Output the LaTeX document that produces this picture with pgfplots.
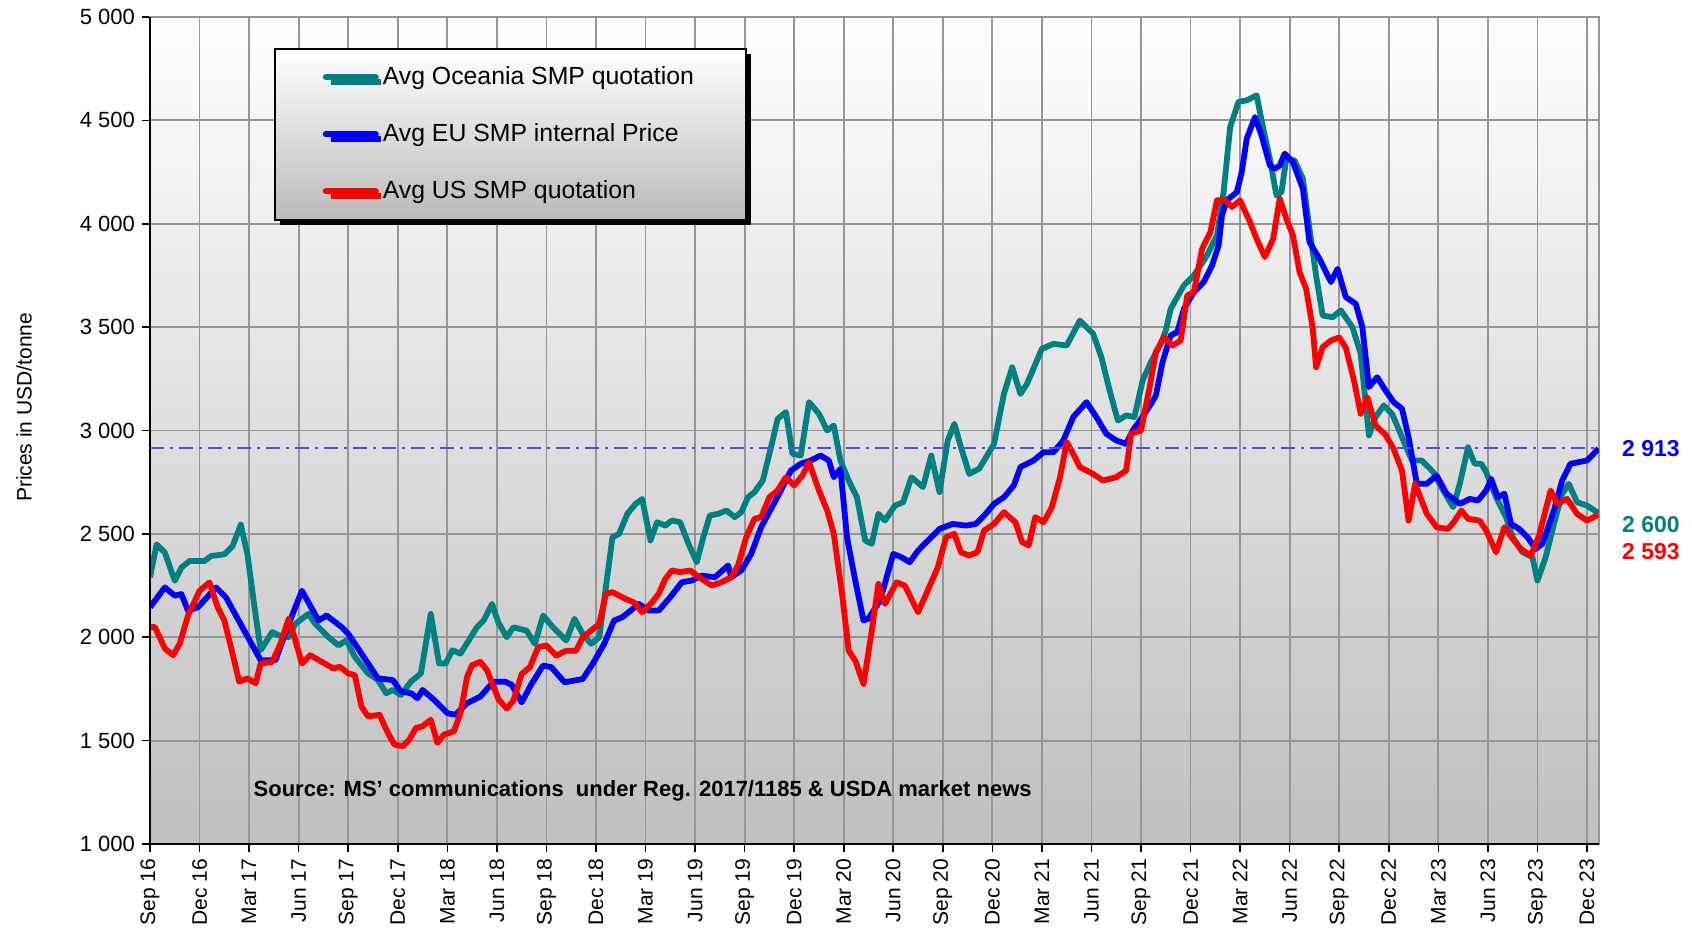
\documentclass[border=0pt]{standalone}
\usepackage{fontspec}
\setmainfont{Liberation Sans}
\usepackage{pgfplots}
\pgfplotsset{compat=1.18}
\usetikzlibrary{shadows}
\definecolor{oce}{RGB}{0,128,128}
\definecolor{eub}{RGB}{0,0,255}
\definecolor{usr}{RGB}{255,0,0}
\definecolor{gridc}{RGB}{150,150,150}
\begin{document}
\begin{tikzpicture}
\begin{axis}[
  scale only axis, width=724.5pt, height=413.5pt,
  at={(0,0)}, anchor=south west, clip mode=individual,
  xmin=0, xmax=87.73, ymin=1000, ymax=5000,
  xtick={0,3,...,87},
  xticklabels={Sep 16,Dec 16,Mar 17,Jun 17,Sep 17,Dec 17,Mar 18,Jun 18,Sep 18,Dec 18,Mar 19,Jun 19,Sep 19,Dec 19,Mar 20,Jun 20,Sep 20,Dec 20,Mar 21,Jun 21,Sep 21,Dec 21,Mar 22,Jun 22,Sep 22,Dec 22,Mar 23,Jun 23,Sep 23,Dec 23},
  ytick={1000,1500,...,5000},
  yticklabels={1 000,1 500,2 000,2 500,3 000,3 500,4 000,4 500,5 000},
  x tick label style={rotate=90, anchor=east, font=\fontsize{10.5}{12}\selectfont},
  y tick label style={font=\fontsize{11}{13}\selectfont},
  tick pos=left, tick align=outside, major tick length=4pt,
  tick style={black, line width=0.8pt},
  grid=major, major grid style={draw=gridc, line width=0.9pt},
  axis line style={draw=gridc, line width=0.9pt},
  axis background/.style={top color=white, bottom color=black!25},
  legend style={at={(rel axis cs:0.0856,0.9625)}, anchor=north west,
    draw=black, line width=0.8pt, top color=white, bottom color=black!27,
    drop shadow={shadow xshift=2.5pt, shadow yshift=-2.5pt, opacity=1, fill=black},
    inner xsep=24pt, inner ysep=7pt, row sep=14pt,
    font=\fontsize{12.4}{14}\selectfont},
  legend cell align=left,
  legend image code/.code={\draw[#1, line width=3pt, line cap=round] (0pt,0pt) -- (25pt,0pt);},
  every axis plot/.append style={line width=2.9pt, line join=round},
]
\addplot[oce] coordinates {
(0,2290) (0.4,2449) (0.9,2409) (1.5,2273) (1.9,2337) (2.4,2369) (3.3,2369) (3.7,2393) (4.5,2401) (5.0,2441) (5.5,2545) (5.9,2401) (6.3,2161) (6.7,1937) (7.4,2025) (7.8,2009) (8.4,2001) (8.8,2065) (9.6,2113) (10.0,2065) (10.8,2001) (11.4,1961) (11.9,1985) (12.4,1905) (13.2,1825) (13.8,1793) (14.3,1729) (14.7,1745) (15.2,1721) (15.8,1785) (16.4,1825) (17.0,2113) (17.5,1873) (17.9,1873) (18.3,1937) (18.8,1921) (19.3,1985) (19.8,2049) (20.2,2081) (20.7,2161) (21.1,2070) (21.6,2000) (22.0,2048) (22.8,2032) (23.3,1968) (23.8,2105) (24.4,2048) (25.2,1984) (25.7,2089) (26.2,2016) (26.7,1968) (27.2,2000) (27.6,2242) (28.0,2484) (28.4,2500) (28.9,2597) (29.4,2645) (29.8,2669) (30.3,2468) (30.7,2556) (31.2,2540) (31.6,2565) (32.1,2556) (32.6,2452) (33.1,2363) (33.5,2484) (33.9,2589) (34.4,2597) (34.9,2613) (35.4,2581) (35.8,2605) (36.2,2677) (36.6,2702) (37.1,2758) (37.6,2919) (38.0,3056) (38.5,3089) (38.9,2887) (39.4,2879) (39.9,3137) (40.5,3081) (41.0,3000) (41.4,3024) (41.8,2855) (42.3,2758) (42.8,2677) (43.3,2468) (43.7,2452) (44.1,2597) (44.5,2565) (45.1,2637) (45.6,2653) (46.1,2774) (46.8,2726) (47.3,2879) (47.8,2702) (48.3,2952) (48.7,3032) (49.1,2919) (49.6,2790) (50.2,2815) (51.1,2935) (51.7,3177) (52.2,3306) (52.7,3177) (53.1,3226) (54.0,3395) (54.7,3419) (55.5,3411) (56.3,3532) (57.1,3468) (57.6,3355) (58.1,3194) (58.6,3048) (59.1,3073) (59.6,3065) (60.1,3242) (60.6,3331) (61.2,3419) (61.5,3484) (61.8,3589) (62.6,3702) (63.2,3750) (64.0,3847) (64.6,3944) (65.0,4153) (65.4,4468) (65.9,4589) (66.4,4597) (67.0,4621) (67.4,4460) (67.8,4315) (68.2,4137) (68.5,4153) (68.8,4315) (69.3,4306) (69.8,4218) (70.2,3976) (70.6,3750) (71.0,3556) (71.6,3548) (72.1,3581) (72.8,3500) (73.3,3371) (73.8,2976) (74.2,3065) (74.7,3121) (75.2,3081) (75.8,2968) (76.4,2855) (77.0,2855) (77.7,2798) (78.3,2710) (78.9,2629) (79.3,2742) (79.8,2919) (80.2,2839) (80.6,2839) (80.9,2798) (81.5,2677) (82.1,2581) (82.5,2484) (83.1,2411) (83.7,2387) (84.0,2274) (84.5,2387) (85.0,2548) (85.5,2694) (85.9,2742) (86.4,2653) (87.0,2637) (87.7,2600)
};
\addlegendentry{Avg Oceania SMP quotation}
\addplot[eub] coordinates {
(0,2145) (0.9,2241) (1.5,2201) (1.9,2209) (2.3,2129) (2.9,2145) (4.0,2241) (4.6,2193) (5.7,2033) (6.7,1889) (7.6,1889) (8.4,2065) (9.2,2225) (10.2,2081) (10.7,2105) (11.6,2049) (12.0,2017) (12.8,1921) (13.8,1801) (14.7,1793) (15.2,1737) (15.8,1729) (16.2,1705) (16.5,1745) (17.2,1697) (18.0,1633) (18.5,1625) (19.2,1681) (20.0,1713) (20.8,1785) (21.5,1785) (21.9,1770) (22.5,1685) (23.1,1774) (23.8,1863) (24.3,1855) (25.1,1782) (26.2,1798) (26.8,1871) (27.5,1968) (28.1,2081) (28.6,2097) (29.6,2161) (30.2,2129) (30.8,2129) (31.5,2194) (32.2,2266) (32.8,2274) (33.4,2298) (34.2,2290) (35.0,2347) (35.2,2290) (35.8,2323) (36.4,2403) (37.0,2532) (37.6,2621) (38.2,2710) (38.8,2806) (39.4,2839) (40.0,2855) (40.6,2879) (41.1,2855) (41.4,2774) (41.8,2815) (42.2,2484) (42.7,2274) (43.2,2081) (43.5,2090) (44.2,2177) (45.0,2403) (45.5,2387) (46.0,2363) (46.5,2419) (47.2,2476) (47.8,2524) (48.6,2548) (49.4,2540) (50.0,2548) (50.6,2597) (51.1,2645) (51.7,2677) (52.3,2734) (52.7,2823) (53.5,2855) (54.1,2895) (54.7,2895) (55.3,2952) (55.9,3065) (56.7,3137) (57.3,3065) (57.9,2984) (58.5,2952) (59.1,2935) (59.5,3000) (60.0,3056) (60.5,3115) (60.9,3169) (61.3,3330) (61.8,3460) (62.2,3476) (62.6,3589) (63.2,3669) (63.8,3718) (64.3,3798) (64.7,3895) (64.9,4040) (65.2,4113) (65.8,4153) (66.1,4250) (66.4,4411) (66.9,4516) (67.3,4427) (67.8,4282) (68.1,4266) (68.4,4282) (68.7,4339) (69.2,4298) (69.8,4169) (70.2,3911) (70.8,3831) (71.5,3718) (71.9,3782) (72.4,3645) (73.0,3613) (73.4,3500) (73.8,3210) (74.3,3258) (74.8,3194) (75.3,3137) (75.8,3105) (76.2,2968) (76.7,2742) (77.3,2742) (77.9,2782) (78.5,2694) (79.3,2645) (79.9,2669) (80.4,2661) (80.9,2710) (81.2,2766) (81.6,2677) (82.0,2694) (82.4,2548) (82.9,2524) (83.4,2484) (83.9,2427) (84.3,2452) (85.0,2613) (85.5,2758) (86.0,2839) (86.5,2847) (87.0,2855) (87.4,2887) (87.7,2913)
};
\addlegendentry{Avg EU SMP internal Price}
\addplot[usr] coordinates {
(0,2049) (0.3,2049) (0.9,1945) (1.4,1913) (1.8,1969) (2.3,2105) (3.0,2225) (3.6,2265) (4.1,2145) (4.5,2081) (4.9,1953) (5.4,1785) (5.9,1801) (6.4,1777) (6.7,1873) (7.4,1881) (7.9,1969) (8.4,2089) (8.8,1985) (9.2,1873) (9.7,1913) (10.4,1881) (11.1,1849) (11.5,1857) (12.0,1825) (12.4,1817) (12.8,1665) (13.2,1617) (13.9,1625) (14.4,1537) (14.8,1481) (15.3,1473) (15.7,1505) (16.1,1561) (16.5,1569) (17.0,1601) (17.4,1489) (17.8,1529) (18.4,1545) (18.8,1633) (19.2,1809) (19.5,1865) (20.0,1881) (20.4,1841) (21.1,1700) (21.6,1655) (22.0,1693) (22.5,1822) (23.0,1855) (23.5,1952) (24.0,1960) (24.6,1911) (25.2,1935) (25.8,1935) (26.2,2000) (26.7,2032) (27.2,2065) (27.6,2210) (28.0,2218) (28.8,2185) (29.3,2169) (29.8,2121) (30.4,2169) (30.8,2210) (31.2,2282) (31.6,2323) (32.1,2315) (32.7,2323) (33.4,2282) (34.0,2250) (34.6,2266) (35.2,2290) (35.6,2347) (36.1,2484) (36.6,2573) (37.0,2581) (37.5,2677) (38.0,2710) (38.5,2774) (39.0,2734) (39.5,2782) (39.9,2847) (40.5,2710) (41.0,2613) (41.4,2500) (41.9,2210) (42.3,1935) (42.7,1887) (43.2,1774) (43.7,2032) (44.1,2258) (44.5,2161) (45.2,2266) (45.7,2250) (46.5,2121) (47.0,2210) (47.7,2339) (48.2,2484) (48.7,2500) (49.1,2411) (49.6,2395) (50.1,2411) (50.5,2516) (51.1,2548) (51.7,2605) (52.4,2556) (52.8,2460) (53.2,2444) (53.6,2581) (54.1,2556) (54.6,2629) (55.1,2774) (55.5,2944) (55.9,2887) (56.3,2823) (57.1,2790) (57.7,2758) (58.5,2774) (59.1,2806) (59.4,2984) (60.0,3000) (60.5,3200) (60.9,3379) (61.4,3452) (61.9,3411) (62.4,3435) (62.8,3653) (63.2,3669) (63.7,3879) (64.2,3960) (64.6,4113) (65.1,4113) (65.5,4081) (66.0,4113) (66.6,4008) (67.0,3927) (67.5,3839) (68.0,3927) (68.4,4121) (68.8,4024) (69.2,3944) (69.6,3766) (70.0,3685) (70.4,3492) (70.6,3306) (71.0,3403) (71.5,3435) (72.0,3450) (72.4,3400) (72.9,3240) (73.3,3081) (73.7,3161) (74.2,3024) (74.8,2980) (75.3,2910) (75.8,2806) (76.2,2564) (76.6,2742) (77.3,2597) (77.9,2532) (78.6,2524) (79.0,2564) (79.4,2613) (79.8,2573) (80.5,2564) (80.9,2516) (81.5,2411) (82.0,2532) (82.5,2476) (83.0,2427) (83.6,2395) (84.1,2492) (84.8,2710) (85.2,2645) (85.8,2669) (86.4,2597) (87.0,2564) (87.7,2593)
};
\addlegendentry{Avg US SMP quotation}
\addplot[eub!70, line width=1pt, dash pattern=on 7pt off 3pt on 1.5pt off 3pt, forget plot] coordinates {(0,2913) (87.73,2913)};
\draw[black, line width=1pt] (rel axis cs:0,1) -- (rel axis cs:0,0) -- (rel axis cs:1,0);
\node[anchor=west, font=\bfseries\fontsize{11}{13}\selectfont] at (axis cs:5.85,1255) {Source: MS' communications\ \ under Reg. 2017/1185 \& USDA market news};
\node[anchor=west, text=eub, font=\bfseries\fontsize{11.5}{13}\selectfont] at ([xshift=8pt]axis cs:87.73,2913) {2 913};
\node[anchor=west, text=oce, font=\bfseries\fontsize{11.5}{13}\selectfont] at ([xshift=8pt]axis cs:87.73,2543) {2 600};
\node[anchor=west, text=usr, font=\bfseries\fontsize{11.5}{13}\selectfont] at ([xshift=8pt]axis cs:87.73,2413) {2 593};
\node[rotate=90, font=\fontsize{10.5}{12}\selectfont] at ([xshift=-63pt]rel axis cs:0,0.528) {Prices in USD/tonne};
\end{axis}
\pgfresetboundingbox
\useasboundingbox (-75pt,-43pt) rectangle (771pt,422pt);
\end{tikzpicture}
\end{document}
